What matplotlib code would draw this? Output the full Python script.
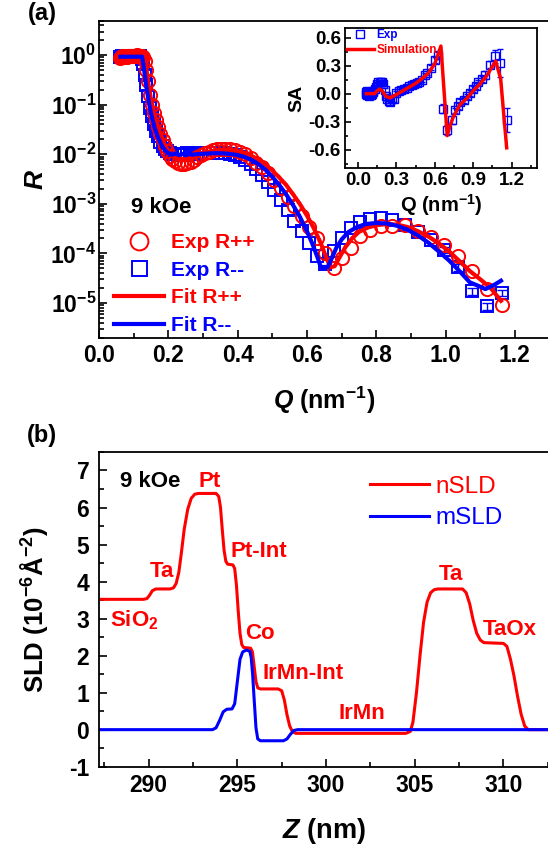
import numpy as np
import matplotlib
matplotlib.use('Agg')
import matplotlib.pyplot as plt
from matplotlib.ticker import MultipleLocator, LogLocator, FuncFormatter, NullFormatter

plt.rcParams['font.family'] = ['Liberation Sans', 'DejaVu Sans']
plt.rcParams['font.weight'] = 'bold'
plt.rcParams['axes.labelweight'] = 'bold'
plt.rcParams['axes.unicode_minus'] = False
plt.rcParams['mathtext.fontset'] = 'custom'
plt.rcParams['mathtext.rm'] = 'Liberation Sans:bold'
plt.rcParams['mathtext.bf'] = 'Liberation Sans:bold'
plt.rcParams['mathtext.it'] = 'Liberation Sans:italic:bold'
plt.rcParams['mathtext.default'] = 'rm'

RED = '#FF0000'
BLUE = '#0000FF'

# ---- (a) reflectivity data ----
q_exp = [0.060, 0.062, 0.064, 0.067, 0.069, 0.072, 0.074, 0.077, 0.080, 0.083,
         0.086, 0.089, 0.092, 0.096, 0.099, 0.103, 0.107, 0.111, 0.115, 0.119,
         0.123, 0.128, 0.133, 0.137, 0.142, 0.148, 0.153, 0.159, 0.165, 0.171,
         0.177, 0.184, 0.190, 0.197, 0.205, 0.212, 0.220, 0.228, 0.237, 0.245,
         0.254, 0.264, 0.273, 0.283, 0.294, 0.305, 0.316, 0.328, 0.340, 0.352,
         0.365, 0.379, 0.393, 0.407, 0.422, 0.438, 0.454, 0.471, 0.488, 0.506,
         0.525, 0.544, 0.564, 0.585, 0.607, 0.629, 0.652, 0.677, 0.702, 0.727,
         0.754, 0.782, 0.813, 0.846, 0.883, 0.920, 0.958, 0.997, 1.036, 1.075,
         1.120, 1.162]

r_pp = [0.88, 0.92, 0.90, 0.94, 0.91, 0.95, 0.92, 0.96, 0.93, 0.97,
        0.94, 0.98, 0.95, 0.97, 0.96, 0.98, 0.97, 0.99, 0.98, 0.97,
        0.95, 0.90, 0.75, 0.50, 0.30, 0.16, 0.10, 0.068, 0.048, 0.035,
        0.026, 0.019, 0.0145, 0.0115, 0.0093, 0.0081, 0.0072, 0.0068, 0.0065, 0.0065,
        0.0066, 0.0071, 0.0078, 0.0087, 0.0097, 0.0106, 0.0113, 0.0120, 0.0125, 0.0128,
        0.0128, 0.0126, 0.0121, 0.0113, 0.0103, 0.0083, 0.0068, 0.0054, 0.0042, 0.0030,
        0.0021, 0.0014, 8.9e-4, 5.6e-4, 3.4e-4, 2.0e-4, 1.0e-4, 5.0e-5, 8.0e-5, 1.3e-4,
        2.2e-4, 3.0e-4, 3.5e-4, 3.6e-4, 3.7e-4, 2.8e-4, 2.1e-4, 1.45e-4, 8.7e-5, 4.4e-5,
        1.9e-5, 9.0e-6]

r_mm = [0.90, 0.93, 0.91, 0.95, 0.92, 0.94, 0.90, 0.95, 0.92, 0.96,
        0.93, 0.95, 0.92, 0.96, 0.93, 0.95, 0.94, 0.96, 0.93, 0.95,
        0.85, 0.65, 0.40, 0.25, 0.15, 0.085, 0.058, 0.040, 0.030, 0.023,
        0.018, 0.015, 0.013, 0.0115, 0.0105, 0.0100, 0.0102, 0.0098, 0.0103, 0.0097,
        0.0104, 0.0099, 0.0105, 0.0102, 0.0106, 0.0105, 0.0107, 0.0106, 0.0107, 0.0106,
        0.0104, 0.0101, 0.0097, 0.0087, 0.0076, 0.0063, 0.0050, 0.0038, 0.00275, 0.0019,
        0.0012, 7.6e-4, 4.5e-4, 2.8e-4, 1.6e-4, 8.9e-5, 6.0e-5, 1.1e-4, 2.0e-4, 3.2e-4,
        4.2e-4, 5.0e-4, 5.2e-4, 4.7e-4, 3.7e-4, 2.7e-4, 1.9e-4, 1.17e-4, 5.2e-5, 1.7e-5,
        8.5e-6, 1.6e-5]

q_fit_pp = [0.062, 0.130, 0.134, 0.138, 0.143, 0.150, 0.160, 0.170, 0.180, 0.190,
            0.200, 0.215, 0.230, 0.245, 0.260, 0.280, 0.300, 0.320, 0.340, 0.360,
            0.380, 0.400, 0.420, 0.440, 0.460, 0.480, 0.500, 0.520, 0.540, 0.560,
            0.580, 0.600, 0.620, 0.640, 0.655, 0.668, 0.680, 0.695, 0.710, 0.730,
            0.750, 0.775, 0.800, 0.830, 0.860, 0.890, 0.920, 0.950, 0.980, 1.010,
            1.040, 1.070, 1.100, 1.130, 1.160]
r_fit_pp = [0.93, 0.93, 0.70, 0.45, 0.25, 0.13, 0.065, 0.037, 0.023, 0.0155,
            0.0115, 0.0088, 0.0078, 0.0076, 0.0079, 0.0090, 0.0103, 0.0114, 0.0121, 0.0124,
            0.0122, 0.0116, 0.0106, 0.0093, 0.0078, 0.0062, 0.0047, 0.0034, 0.0024, 0.00155,
            9.8e-4, 5.8e-4, 3.2e-4, 1.6e-4, 8.5e-5, 5.2e-5, 5.5e-5, 8.5e-5, 1.3e-4, 2.0e-4,
            2.7e-4, 3.3e-4, 3.7e-4, 3.9e-4, 3.8e-4, 3.4e-4, 2.8e-4, 2.2e-4, 1.6e-4, 1.1e-4,
            7.0e-5, 4.4e-5, 3.0e-5, 2.0e-5, 1.1e-5]

q_fit_mm = [0.062, 0.124, 0.128, 0.132, 0.138, 0.145, 0.152, 0.160, 0.170, 0.180,
            0.190, 0.200, 0.210, 0.220, 0.230, 0.240, 0.250, 0.260, 0.270, 0.285,
            0.300, 0.320, 0.340, 0.360, 0.380, 0.400, 0.420, 0.440, 0.460, 0.480,
            0.500, 0.520, 0.540, 0.560, 0.580, 0.600, 0.615, 0.630, 0.640, 0.660,
            0.672, 0.685, 0.700, 0.720, 0.745, 0.770, 0.800, 0.830, 0.860, 0.890,
            0.920, 0.950, 0.980, 1.010, 1.040, 1.070, 1.095, 1.115, 1.140, 1.160]
r_fit_mm = [0.93, 0.93, 0.65, 0.40, 0.20, 0.10, 0.058, 0.035, 0.022, 0.0155,
            0.012, 0.0105, 0.0098, 0.0103, 0.0096, 0.0102, 0.0095, 0.0101, 0.0098, 0.0101,
            0.0102, 0.0104, 0.0105, 0.0104, 0.0101, 0.0096, 0.0088, 0.0077, 0.0063, 0.0049,
            0.0035, 0.0024, 0.00155, 9.4e-4, 5.4e-4, 2.8e-4, 1.6e-4, 8.5e-5, 5.3e-5, 5.3e-5,
            8.0e-5, 1.3e-4, 1.9e-4, 2.7e-4, 3.4e-4, 3.9e-4, 4.1e-4, 4.0e-4, 3.6e-4, 3.0e-4,
            2.3e-4, 1.65e-4, 1.1e-4, 7.2e-5, 4.4e-5, 2.6e-5, 2.2e-5, 1.9e-5, 2.3e-5, 2.8e-5]

# spin asymmetry (inset)
q_sa = [0.060, 0.065, 0.070, 0.075, 0.080, 0.085, 0.090, 0.095, 0.100, 0.105,
        0.110, 0.115, 0.120, 0.130, 0.140, 0.150, 0.160, 0.170, 0.180, 0.190,
        0.200, 0.210, 0.220, 0.230, 0.240, 0.250, 0.265, 0.280, 0.300, 0.320,
        0.340, 0.360, 0.380, 0.400, 0.420, 0.440, 0.460, 0.480, 0.500, 0.520,
        0.540, 0.570, 0.600, 0.627, 0.666, 0.692, 0.731, 0.757, 0.780, 0.800,
        0.825, 0.850, 0.875, 0.900, 0.920, 0.940, 0.965, 0.990, 1.030, 1.070,
        1.110, 1.166]
sa_exp = [0.02, 0.00, -0.01, 0.03, 0.01, -0.02, 0.00, 0.02, -0.01, 0.01,
          0.00, 0.02, 0.03, 0.05, 0.07, 0.10, 0.12, 0.13, 0.12, 0.13,
          0.10, 0.04, -0.03, -0.06, -0.08, -0.09, -0.06, -0.06, 0.01, 0.03,
          0.04, 0.05, 0.06, 0.08, 0.09, 0.10, 0.11, 0.13, 0.15, 0.20,
          0.22, 0.28, 0.36, 0.41, -0.16, -0.39, -0.28, -0.18, -0.13, -0.09,
          -0.07, -0.03, 0.01, 0.05, 0.08, 0.12, 0.16, 0.20, 0.31, 0.40,
          0.33, -0.28]
sa_err = [0.02, 0.02, 0.02, 0.02, 0.02, 0.02, 0.02, 0.02, 0.02, 0.02,
          0.02, 0.02, 0.02, 0.02, 0.02, 0.02, 0.02, 0.02, 0.02, 0.02,
          0.02, 0.02, 0.02, 0.02, 0.02, 0.03, 0.03, 0.03, 0.02, 0.02,
          0.02, 0.02, 0.02, 0.02, 0.02, 0.02, 0.02, 0.02, 0.02, 0.02,
          0.02, 0.03, 0.03, 0.04, 0.05, 0.05, 0.04, 0.03, 0.03, 0.03,
          0.03, 0.03, 0.03, 0.03, 0.03, 0.03, 0.03, 0.04, 0.04, 0.07,
          0.15, 0.13]
q_sim = [0.066, 0.130, 0.150, 0.170, 0.190, 0.220, 0.250, 0.300, 0.350, 0.400,
         0.450, 0.500, 0.550, 0.600, 0.648, 0.697, 0.720, 0.744, 0.796, 0.850,
         0.900, 0.950, 1.005, 1.075, 1.114, 1.161]
sa_sim = [0.00, 0.00, 0.03, 0.05, 0.03, -0.03, -0.045, -0.01, 0.03, 0.07,
          0.11, 0.16, 0.22, 0.32, 0.51, -0.45, -0.34, -0.25, -0.12, -0.05,
          0.03, 0.10, 0.19, 0.35, 0.16, -0.58]

# ---- (b) SLD depth profiles ----
z_n = [287.0, 289.7, 289.9, 290.05, 290.2, 290.4, 291.2, 291.4, 291.55, 291.7,
       291.85, 292.0, 292.2, 292.4, 292.6, 292.8, 293.8, 293.95, 294.05, 294.15,
       294.25, 294.35, 294.45, 294.75, 294.85, 294.95, 295.05, 295.15, 295.25, 295.35,
       295.75, 295.85, 295.95, 296.05, 296.15, 296.3, 297.3, 297.5, 297.65, 297.8,
       297.95, 298.1, 298.3, 304.5, 304.75, 304.9, 305.1, 305.3, 305.5, 305.7,
       305.9, 306.1, 306.3, 307.7, 307.9, 308.1, 308.3, 308.5, 308.7, 308.9,
       310.0, 310.2, 310.4, 310.6, 310.8, 311.0, 311.2, 311.4, 313.0]
sld_n = [3.52, 3.52, 3.54, 3.63, 3.75, 3.80, 3.80, 3.83, 3.95, 4.25,
         4.80, 5.40, 5.95, 6.25, 6.36, 6.38, 6.38, 6.30, 6.00, 5.40,
         4.85, 4.55, 4.47, 4.45, 4.35, 3.90, 3.20, 2.60, 2.30, 2.22,
         2.20, 2.10, 1.70, 1.30, 1.13, 1.10, 1.10, 1.05, 0.80, 0.40,
         0.10, -0.05, -0.10, -0.10, -0.05, 0.20, 1.00, 2.00, 2.90, 3.45,
         3.70, 3.78, 3.80, 3.80, 3.70, 3.40, 2.95, 2.60, 2.42, 2.35,
         2.33, 2.25, 1.90, 1.45, 0.90, 0.42, 0.10, 0.00, 0.00]

z_m = [287.0, 293.6, 293.8, 294.0, 294.2, 294.4, 294.7, 294.85, 295.0, 295.15,
       295.3, 295.5, 295.7, 295.78, 295.86, 295.95, 296.05, 296.15, 296.3, 297.6,
       297.8, 298.0, 298.2, 298.4, 313.0]
sld_m = [0.0, 0.0, 0.05, 0.25, 0.48, 0.55, 0.56, 0.70, 1.30, 1.90,
         2.10, 2.15, 2.12, 1.95, 1.50, 0.80, 0.05, -0.25, -0.30, -0.30,
         -0.25, -0.12, -0.02, 0.0, 0.0]

layer_labels = ['Pt', 'Ta', 'Pt-Int', 'SiO$_2$', 'Co', 'IrMn-Int', 'IrMn', 'Ta', 'TaOx']
label_z = [293.44, 290.72, 296.21, 289.2, 296.25, 298.72, 302.0, 307.03, 310.37]
label_sld = [6.70, 4.26, 4.82, 2.95, 2.61, 1.53, 0.44, 4.20, 2.70]

fig = plt.figure(figsize=(5.48, 8.48), dpi=100)


def style_axis(ax, size):
    for s in ax.spines.values():
        s.set_linewidth(1.3)
    ax.tick_params(which='both', direction='in', top=False, right=False,
                   labelsize=size, width=1.2, pad=5)
    ax.tick_params(which='major', length=6)
    ax.tick_params(which='minor', length=3.5)


# ---- panel (a) ----
ax1 = fig.add_axes([0.1807, 0.602, 0.822, 0.3738])
ax1.set_yscale('log')
ax1.plot(q_exp, r_pp, 'o', ms=9.5, mfc='none', mec=RED, mew=1.4, label='Exp R++', zorder=3)
ax1.plot(q_exp, r_mm, 's', ms=8, mfc='none', mec=BLUE, mew=1.4, label='Exp R--', zorder=2)
r_mm_tail = np.array(r_mm[-5:])
ax1.errorbar(q_exp[-5:], r_mm_tail, yerr=0.15 * r_mm_tail, fmt='none', ecolor=BLUE,
             elinewidth=1.0, capsize=3.5, capthick=1.0, zorder=2)
ax1.plot(q_fit_pp, r_fit_pp, '-', color=RED, lw=3, label='Fit R++', zorder=4)
ax1.plot(q_fit_mm, r_fit_mm, '-', color=BLUE, lw=3, label='Fit R--', zorder=5)
ax1.set_xlim(0, 1.3)
ax1.set_ylim(2e-6, 5)
ax1.xaxis.set_major_locator(MultipleLocator(0.2))
ax1.xaxis.set_minor_locator(MultipleLocator(0.1))
ax1.xaxis.set_major_formatter(FuncFormatter(lambda v, p: f'{v:.1f}'))
ax1.yaxis.set_major_locator(LogLocator(base=10, numticks=12))
ax1.yaxis.set_minor_locator(LogLocator(base=10, subs=np.arange(2, 10), numticks=12))
ax1.yaxis.set_major_formatter(FuncFormatter(lambda v, p: r'$10^{%d}$' % round(np.log10(v))))
ax1.yaxis.set_minor_formatter(NullFormatter())
style_axis(ax1, 16.5)
ax1.tick_params(axis='y', which='both', pad=2)
ax1.set_xlabel(r'$\mathit{Q}$ (nm$^{-1}$)', fontsize=18, labelpad=12)
ax1.set_ylabel('R', fontsize=19, fontstyle='italic', labelpad=2)
ax1.text(0.07, 0.41, '9 kOe', transform=ax1.transAxes, fontsize=16,
         ha='left', va='center', color='black')
leg1 = ax1.legend(loc='upper left', bbox_to_anchor=(0.034, 0.33), frameon=False,
                  prop={'size': 15, 'weight': 'bold'}, handlelength=2.4, handletextpad=0.3,
                  labelspacing=0.42, borderpad=0, borderaxespad=0, numpoints=1,
                  markerscale=1.35)
for txt, col in zip(leg1.get_texts(), [RED, BLUE, RED, BLUE]):
    txt.set_color(col)

# inset: spin asymmetry
axi = fig.add_axes([0.6296, 0.8015, 0.3509, 0.1651])
axi.errorbar(q_sa, sa_exp, yerr=sa_err, fmt='none', ecolor=BLUE, elinewidth=0.9,
             capsize=2, zorder=2)
exp_mark, = axi.plot(q_sa, sa_exp, 's', ms=5.5, mfc='none', mec=BLUE, mew=1.0, zorder=2)
sim_line, = axi.plot(q_sim, sa_sim, '-', color=RED, lw=2.5, zorder=3)
axi.set_xlim(-0.1, 1.4)
axi.set_ylim(-0.8, 0.7)
axi.xaxis.set_major_locator(MultipleLocator(0.3))
axi.xaxis.set_minor_locator(MultipleLocator(0.15))
axi.yaxis.set_major_locator(MultipleLocator(0.3))
axi.yaxis.set_minor_locator(MultipleLocator(0.15))
axi.xaxis.set_major_formatter(FuncFormatter(lambda v, p: f'{v:.1f}'))
axi.yaxis.set_major_formatter(FuncFormatter(lambda v, p: f'{v:.1f}'))
style_axis(axi, 13.5)
axi.tick_params(which='major', length=4, pad=3)
axi.tick_params(which='minor', length=2)
axi.set_xlabel(r'Q (nm$^{-1}$)', fontsize=14.5, labelpad=2)
axi.set_ylabel('SA', fontsize=14, labelpad=2)
legi = axi.legend([exp_mark, sim_line], ['Exp', 'Simulation'], loc='upper left',
                  bbox_to_anchor=(0.009, 0.995), frameon=False,
                  prop={'size': 8.5, 'weight': 'bold'}, handlelength=2.3,
                  handletextpad=0.2, labelspacing=0.25, borderpad=0, borderaxespad=0,
                  numpoints=1)
for txt, col in zip(legi.get_texts(), [BLUE, RED]):
    txt.set_color(col)

# ---- panel (b) ----
ax2 = fig.add_axes([0.1807, 0.0959, 0.822, 0.3711])
ax2.plot(z_n, sld_n, '-', color=RED, lw=2.2, label='nSLD')
ax2.plot(z_m, sld_m, '-', color=BLUE, lw=2.2, label='mSLD')
ax2.set_xlim(287.2, 312.6)
ax2.set_ylim(-1, 7.5)
ax2.xaxis.set_major_locator(MultipleLocator(5))
ax2.xaxis.set_minor_locator(MultipleLocator(2.5))
ax2.yaxis.set_major_locator(MultipleLocator(1))
ax2.yaxis.set_minor_locator(MultipleLocator(0.5))
style_axis(ax2, 16.5)
ax2.tick_params(axis='y', which='both', pad=7)
ax2.set_xlabel(r'$\mathit{Z}$ (nm)', fontsize=19.5, labelpad=14)
ax2.set_ylabel('SLD (10$^{-6}$Å$^{-2}$)', fontsize=18.5, labelpad=14)
ax2.text(288.4, 6.70, '9 kOe', fontsize=16, color='black', ha='left', va='center')
for txt, zx, sy in zip(layer_labels, label_z, label_sld):
    ax2.text(zx, sy, txt, fontsize=16, color=RED, ha='center', va='center')
leg2 = ax2.legend(loc='upper left', bbox_to_anchor=(0.602, 0.925), frameon=False,
                  prop={'weight': 'normal', 'size': 17.5}, handlelength=2.4,
                  handletextpad=0.3, labelspacing=0.4, borderpad=0, borderaxespad=0)
for txt, col in zip(leg2.get_texts(), [RED, BLUE]):
    txt.set_color(col)

fig.text(0.0766, 0.9835, '(a)', fontsize=17, ha='center', va='center')
fig.text(0.0766, 0.486, '(b)', fontsize=17, ha='center', va='center')

fig.savefig('out.png', dpi=100)
